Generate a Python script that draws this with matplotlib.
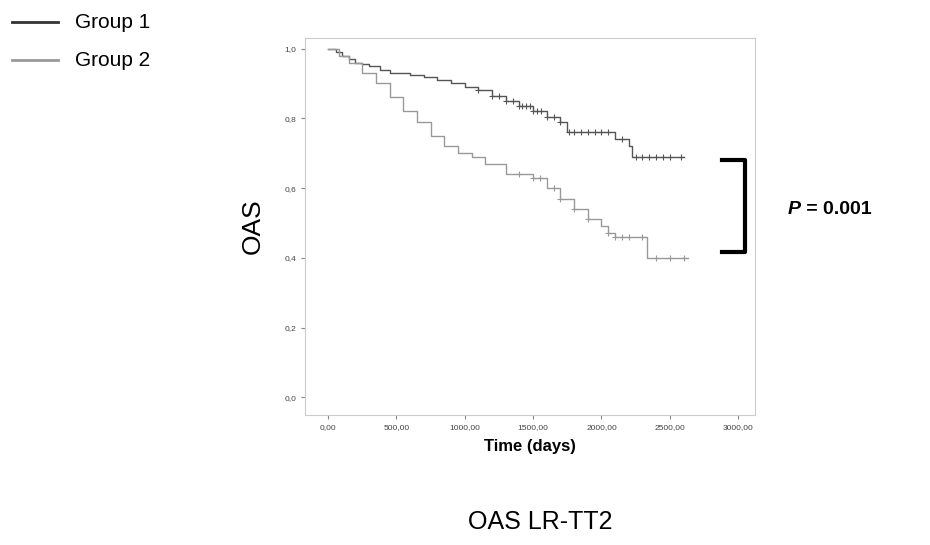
import matplotlib
matplotlib.use("Agg")
import matplotlib.pyplot as plt
import numpy as np

plt.rcParams['font.family'] = ['Liberation Sans', 'DejaVu Sans']

g1_t = [0, 60, 100, 150, 200, 250, 300, 380, 450, 600, 700, 800, 900, 1000, 1100, 1200, 1300, 1400,
        1500, 1600, 1700, 1750, 2100, 2200, 2220, 2600]
g1_s = [1.0, 0.99, 0.98, 0.97, 0.96, 0.955, 0.95, 0.94, 0.93, 0.925, 0.92, 0.91, 0.90, 0.89, 0.88,
        0.865, 0.85, 0.835, 0.82, 0.805, 0.79, 0.76, 0.74, 0.72, 0.69, 0.69]
g1_c = [1100, 1200, 1250, 1300, 1350, 1400, 1420, 1450, 1480, 1500, 1530, 1560, 1600, 1650, 1700,
        1760, 1800, 1850, 1900, 1950, 2000, 2050, 2150, 2250, 2300, 2350, 2400, 2450, 2500, 2580]
g2_t = [0, 80, 150, 250, 350, 450, 550, 650, 750, 850, 950, 1050, 1150, 1300, 1500, 1600, 1700,
        1800, 1900, 2000, 2050, 2100, 2330, 2630]
g2_s = [1.0, 0.98, 0.96, 0.93, 0.90, 0.86, 0.82, 0.79, 0.75, 0.72, 0.70, 0.69, 0.67, 0.64, 0.63,
        0.60, 0.57, 0.54, 0.51, 0.49, 0.47, 0.46, 0.40, 0.40]
g2_c = [1400, 1500, 1550, 1650, 1700, 1800, 1900, 2050, 2100, 2150, 2200, 2300, 2400, 2500, 2600]

fig = plt.figure(figsize=(9.3, 5.45), dpi=100)
ax = fig.add_axes([0.328, 0.239, 0.484, 0.691])

def draw(t, s, c, col):
    ax.step(t, s, where='post', color=col, lw=1.0)
    cs = [s[np.searchsorted(t, x, side='right') - 1] for x in c]
    ax.plot(c, cs, '+', color=col, ms=4, mew=0.8)

draw(g1_t, g1_s, g1_c, '#555555')
draw(g2_t, g2_s, g2_c, '#999999')

ax.set_xlim(-168, 3124)
ax.set_ylim(-0.05, 1.03)
ax.set_xticks([0, 500, 1000, 1500, 2000, 2500, 3000])
ax.set_xticklabels(['0,00', '500,00', '1000,00', '1500,00', '2000,00', '2500,00', '3000,00'], fontsize=6, color='#444444')
ax.set_yticks([0, 0.2, 0.4, 0.6, 0.8, 1.0])
ax.set_yticklabels(['0,0', '0,2', '0,4', '0,6', '0,8', '1,0'], fontsize=6, color='#444444')
ax.tick_params(length=3, color='#888888')
for sp in ax.spines.values():
    sp.set_color('#cccccc')
ax.set_xlabel('Time (days)', fontsize=12, fontweight='bold', labelpad=6)
ax.set_ylabel('OAS', fontsize=19, labelpad=14)

fig.lines.append(plt.Line2D([722/930, 745/930, 745/930, 722/930],
                            [1-160/545, 1-160/545, 1-252/545, 1-252/545],
                            transform=fig.transFigure, color='black', lw=3))
fig.text(788/930, 1-210/545, 'P', fontsize=14, fontweight='bold', style='italic', va='center', ha='left')
fig.text(801/930, 1-210/545, ' = 0.001', fontsize=14, fontweight='bold', va='center', ha='left')
fig.text(540/930, 1-522/545, 'OAS LR-TT2', fontsize=18, ha='center', va='center')

fig.lines.append(plt.Line2D([12/930, 58/930], [1-22/545]*2, transform=fig.transFigure, color='#333333', lw=2))
fig.lines.append(plt.Line2D([12/930, 58/930], [1-60/545]*2, transform=fig.transFigure, color='#999999', lw=2))
fig.text(75/930, 1-22/545, 'Group 1', fontsize=15, va='center')
fig.text(75/930, 1-60/545, 'Group 2', fontsize=15, va='center')

fig.savefig('out.png', dpi=100)
